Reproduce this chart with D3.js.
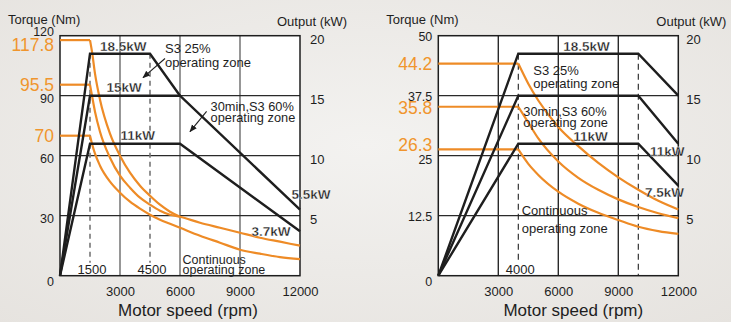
<!DOCTYPE html>
<html>
<head>
<meta charset="utf-8">
<script src="https://cdn.jsdelivr.net/npm/d3@7"></script>
<style>
  body { margin: 0; background: #ebe8e5; }
  svg text { font-family: "Liberation Sans", Arial, sans-serif; }
</style>
</head>
<body>
<svg id="chart" width="731" height="322"></svg>
<script>
// ---- left motor (12000 rpm, 18.5 kW) ----
const leftTorqueTicks = [0, 30, 60, 90, 120];
const leftSpeedTicks = [3000, 6000, 9000, 12000];
const leftOutputTicks = [5, 10, 15, 20];
const leftRatedTorque = [117.8, 95.5, 70];
const leftBaseSpeed = [1500, 4500];
// output lines [rpm, kW]
const leftS3_25 = [[0, 0], [1500, 18.5], [4500, 18.5], [6000, 15]];
const leftS3_60 = [[0, 0], [1500, 15], [6000, 15], [12000, 5.5]];
const leftCont = [[0, 0], [1500, 11], [6000, 11], [12000, 3.7]];
// torque curves [rpm, Nm]
const leftTorqueS3_25 = [[0, 117.8], [1500, 117.8], [1600, 112], [1750, 101], [2000, 88], [2500, 71], [3000, 60],
  [3500, 51.5], [4000, 45], [4500, 40], [5000, 35.5], [5500, 32], [6000, 29.5]];
const leftTorqueS3_60 = [[0, 95.5], [1500, 95.5], [1600, 90], [1750, 82], [2000, 72], [2500, 59], [3000, 50],
  [3500, 44], [4000, 39], [4500, 35.5], [5000, 32.5], [5500, 30.5], [6000, 29.5], [7000, 26.5], [8000, 24],
  [9000, 21.5], [10000, 19], [11000, 17], [12000, 15]];
const leftTorqueCont = [[0, 70], [1500, 70], [1600, 66], [1750, 61], [2000, 55], [2500, 47], [3000, 41.5],
  [3500, 37], [4000, 33.5], [4500, 30.5], [5000, 28], [5500, 26], [6000, 24], [7000, 20], [8000, 16.5],
  [9000, 13], [10000, 11], [11000, 9.3], [12000, 8.3]];

// ---- right motor (12000 rpm, 18.5 kW, base 4000) ----
const rightTorqueTicks = [0, 12.5, 25, 37.5, 50];
const rightSpeedTicks = [3000, 6000, 9000, 12000];
const rightOutputTicks = [5, 10, 15, 20];
const rightRatedTorque = [44.2, 35.8, 26.3];
const rightBaseSpeed = [4000, 10000];
const rightS3_25 = [[0, 0], [4000, 18.5], [10000, 18.5], [12000, 15]];
const rightS3_60 = [[0, 0], [4000, 15], [10000, 15], [12000, 11]];
const rightCont = [[0, 0], [4000, 11], [10000, 11], [12000, 7.5]];
const rightTorqueS3_25 = [[0, 44.2], [4000, 44.2], [4500, 40], [5000, 36.5], [6000, 31], [7000, 27], [8000, 23.5],
  [9000, 20.5], [10000, 17.9], [11000, 15.6], [12000, 13.8]];
const rightTorqueS3_60 = [[0, 35.2], [4000, 35.2], [4500, 31.9], [5000, 28.6], [6000, 23.8], [7000, 20.4],
  [8000, 17.9], [9000, 15.9], [10000, 14.3], [11000, 13], [12000, 12]];
const rightTorqueCont = [[0, 26.3], [4000, 26.3], [4500, 23.3], [5000, 21], [6000, 17.5], [7000, 15],
  [8000, 13.1], [9000, 11.6], [10000, 10.2], [11000, 9.3], [12000, 8.7]];

const ORANGE = "#ee8b26";
const ORANGE_TXT = "#f0952d";
const INK = "#1e1e1e";

const svg = d3.select("#chart");

// soft background
const defs = svg.append("defs");
const bg = defs.append("radialGradient").attr("id", "bg").attr("cx", "50%").attr("cy", "45%").attr("r", "75%");
bg.append("stop").attr("offset", "0%").attr("stop-color", "#f3f2f0");
bg.append("stop").attr("offset", "100%").attr("stop-color", "#e6e3df");
svg.append("rect").attr("width", 731).attr("height", 322).attr("fill", "url(#bg)");

defs.append("marker")
  .attr("id", "arrow")
  .attr("viewBox", "0 0 10 10")
  .attr("refX", 9).attr("refY", 5)
  .attr("markerWidth", 7).attr("markerHeight", 7)
  .attr("orient", "auto")
  .append("path").attr("d", "M0,1 L10,5 L0,9 z").attr("fill", INK);

function drawChart(o) {
  const g = svg.append("g");
  const x = d3.scaleLinear().domain([0, 12000]).range([o.left, o.left + 240]);
  const y = d3.scaleLinear().domain([0, o.torqueMax]).range([275.7, 35.7]);
  const yk = d3.scaleLinear().domain([0, 20]).range([275.7, 35.7]);

  // plot area
  g.append("rect")
    .attr("x", x(0)).attr("y", y(o.torqueMax))
    .attr("width", x(12000) - x(0)).attr("height", y(0) - y(o.torqueMax))
    .attr("fill", "#fff");

  // grid
  g.selectAll(".vgrid").data(o.speedTicks.filter(d => d < 12000)).enter().append("line")
    .attr("x1", d => x(d)).attr("x2", d => x(d))
    .attr("y1", y(0)).attr("y2", y(o.torqueMax))
    .attr("stroke", o.vgridColor).attr("stroke-width", 1.4);
  g.selectAll(".hgrid").data(o.torqueTicks.filter(d => d > 0 && d < o.torqueMax)).enter().append("line")
    .attr("x1", x(0)).attr("x2", x(12000))
    .attr("y1", d => y(d)).attr("y2", d => y(d))
    .attr("stroke", "#2a2a2a").attr("stroke-width", 1.3);

  // base-speed dashed markers
  g.selectAll(".dash").data(o.baseSpeed).enter().append("line")
    .attr("x1", d => x(d)).attr("x2", d => x(d))
    .attr("y1", yk(18.5))
    .attr("y2", (d, i) => o.dashToBottom[i] ? y(0) : y(0) - 13)
    .attr("stroke", o.dashColor).attr("stroke-width", o.dashWidth)
    .attr("stroke-dasharray", o.dashArray);

  // border
  g.append("rect")
    .attr("x", x(0)).attr("y", y(o.torqueMax))
    .attr("width", x(12000) - x(0)).attr("height", y(0) - y(o.torqueMax))
    .attr("fill", "none").attr("stroke", INK).attr("stroke-width", 1.5);

  // torque curves: flat part then falling part
  const tLine = d3.line().x(d => x(d[0])).y(d => y(d[1])).curve(d3.curveMonotoneX);
  o.torqueCurves.forEach(c => {
    g.append("path").datum(c.slice(0, 2))
      .attr("d", d3.line().x(d => x(d[0])).y(d => y(d[1])))
      .attr("fill", "none").attr("stroke", ORANGE).attr("stroke-width", 2.2);
    g.append("path").datum(c.slice(1))
      .attr("d", tLine)
      .attr("fill", "none").attr("stroke", ORANGE).attr("stroke-width", 2.2);
  });

  // output lines
  const pLine = d3.line().x(d => x(d[0])).y(d => yk(d[1]));
  o.powerLines.forEach(p => {
    g.append("path").datum(p)
      .attr("d", pLine)
      .attr("fill", "none").attr("stroke", INK).attr("stroke-width", 2.4)
      .attr("stroke-linejoin", "miter");
  });

  // left torque axis
  const ax = g.append("g").attr("transform", `translate(${x(0)},0)`)
    .call(d3.axisLeft(y).tickValues(o.torqueTicks).tickSize(0).tickPadding(6).tickFormat(d3.format("")));
  ax.select(".domain").remove();
  ax.selectAll("text")
    .attr("font-size", 12.5).attr("fill", INK)
    .attr("dy", d => o.torqueNudge(d));

  // rated torque labels in orange
  g.selectAll(".rt").data(o.ratedTorque).enter().append("text")
    .attr("x", x(0) - 6)
    .attr("y", (d, i) => y(o.ratedTorqueAt[i]) + o.ratedNudge[i])
    .attr("dy", "0.35em")
    .attr("text-anchor", "end")
    .attr("font-size", 17.5).attr("fill", ORANGE_TXT)
    .text(d => d);

  // right output axis
  const ay = g.append("g").attr("transform", `translate(${x(12000)},0)`)
    .call(d3.axisRight(yk).tickValues(o.outputTicks).tickSize(0).tickPadding(o.outPad));
  ay.select(".domain").remove();
  ay.selectAll("text").attr("font-size", 13).attr("fill", INK).attr("dy", "0.6em");

  // speed axis
  const axb = g.append("g").attr("transform", `translate(0,${y(0)})`)
    .call(d3.axisBottom(x).tickValues(o.speedTicks).tickSize(0).tickPadding(11).tickFormat(d3.format("d")));
  axb.select(".domain").remove();
  axb.selectAll("text").attr("font-size", 13).attr("fill", INK);

  // axis titles
  g.append("text").attr("x", x(0) - 52).attr("y", 23.5)
    .attr("font-size", 13).attr("fill", INK).text("Torque (Nm)");
  g.append("text").attr("x", x(12000) + o.outTitleDx).attr("y", 25.5)
    .attr("font-size", 13).attr("fill", INK).text("Output (kW)");
  g.append("text").attr("x", x(6000) + o.speedTitleDx).attr("y", 316)
    .attr("text-anchor", "middle").attr("font-size", 17).attr("fill", INK)
    .text("Motor speed (rpm)");

  // base speed labels
  o.baseLabels.forEach(b => {
    g.append("text").attr("x", x(b) + 2).attr("y", y(0) - 1.5)
      .attr("text-anchor", "middle").attr("font-size", 13).attr("fill", INK).text(b);
  });

  // output value labels
  o.kwLabels.forEach(l => {
    g.append("text").attr("x", x(l.rpm)).attr("y", yk(l.kw))
      .attr("font-size", 13.5).attr("font-weight", "bold").attr("fill", INK)
      .attr("stroke", "#fff").attr("stroke-width", 0.3)
      .text(l.text);
  });

  // zone notes
  o.notes.forEach(n => {
    const t = g.append("text").attr("font-size", n.size).attr("fill", INK);
    n.lines.forEach((s, i) => {
      t.append("tspan").attr("x", x(n.rpm)).attr("y", yk(n.kw) + i * n.gap).text(s);
    });
  });

  // arrows
  o.arrows.forEach(a => {
    g.append("line")
      .attr("x1", x(a[0])).attr("y1", yk(a[1]))
      .attr("x2", x(a[2])).attr("y2", yk(a[3]))
      .attr("stroke", INK).attr("stroke-width", 1.1)
      .attr("marker-end", "url(#arrow)");
  });
}

drawChart({
  left: 60,
  torqueMax: 120,
  torqueTicks: leftTorqueTicks,
  speedTicks: leftSpeedTicks,
  outputTicks: leftOutputTicks,
  baseSpeed: leftBaseSpeed,
  dashToBottom: [false, false],
  dashColor: "#777", dashWidth: 1.6, dashArray: "5,4",
  vgridColor: "#6a6a6a",
  ratedTorque: leftRatedTorque,
  ratedTorqueAt: leftRatedTorque,
  ratedNudge: [5, 0, 0],
  torqueNudge: d => d === 120 ? "-0.0em" : (d === 0 ? "0.8em" : "0.55em"),
  outPad: 10, outTitleDx: -23, speedTitleDx: 8,
  torqueCurves: [leftTorqueS3_25, leftTorqueS3_60, leftTorqueCont],
  powerLines: [leftS3_25, leftS3_60, leftCont],
  baseLabels: [1500, 4500],
  kwLabels: [
    { text: "18.5kW", rpm: 2000, kw: 18.7 },
    { text: "15kW", rpm: 2330, kw: 15.3 },
    { text: "11kW", rpm: 3030, kw: 11.35 },
    { text: "5.5kW", rpm: 11580, kw: 6.4 },
    { text: "3.7kW", rpm: 9580, kw: 3.3 }
  ],
  notes: [
    { lines: ["S3 25%", "operating zone"], rpm: 5250, kw: 18.6, gap: 14, size: 13 },
    { lines: ["30min,S3 60%", "operating zone"], rpm: 7530, kw: 13.7, gap: 10.8, size: 12.8 },
    { lines: ["Continuous", "operating zone"], rpm: 6130, kw: 0.95, gap: 9.8, size: 12.5 }
  ],
  arrows: [[5250, 18.1, 4150, 16.5], [7330, 13.7, 6500, 12.0]]
});

drawChart({
  left: 438.3,
  torqueMax: 50,
  torqueTicks: rightTorqueTicks,
  speedTicks: rightSpeedTicks,
  outputTicks: rightOutputTicks,
  baseSpeed: rightBaseSpeed,
  dashToBottom: [false, true],
  dashColor: "#222", dashWidth: 1.1, dashArray: "6,4",
  vgridColor: "#2a2a2a",
  ratedTorque: rightRatedTorque,
  ratedTorqueAt: [44.2, 35.2, 26.3],
  ratedNudge: [0, 1, -4.5],
  torqueNudge: d => d === 0 ? "0.8em" : (d === 25 ? "0.6em" : "0.42em"),
  outPad: 8, outTitleDx: -22, speedTitleDx: 15,
  torqueCurves: [rightTorqueS3_25, rightTorqueS3_60, rightTorqueCont],
  powerLines: [rightS3_25, rightS3_60, rightCont],
  baseLabels: [4000],
  kwLabels: [
    { text: "18.5kW", rpm: 6250, kw: 18.7 },
    { text: "11kW", rpm: 6750, kw: 11.2 },
    { text: "11kW", rpm: 10580, kw: 10.0 },
    { text: "7.5kW", rpm: 10330, kw: 6.55 }
  ],
  notes: [
    { lines: ["S3 25%", "operating zone"], rpm: 4750, kw: 16.7, gap: 13, size: 13 },
    { lines: ["30min,S3 60%", "operating zone"], rpm: 4250, kw: 13.3, gap: 10.5, size: 12.8 },
    { lines: ["Continuous", "operating zone"], rpm: 4170, kw: 5.1, gap: 18.3, size: 13 }
  ],
  arrows: []
});
</script>
</body>
</html>
